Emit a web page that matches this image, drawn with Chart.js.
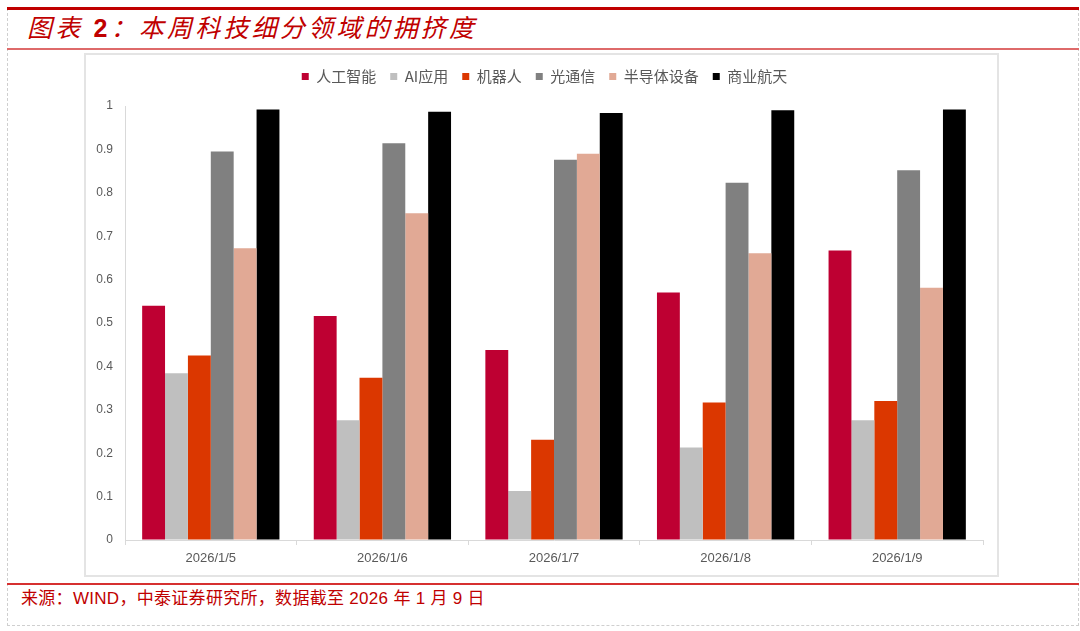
<!DOCTYPE html>
<html lang="zh">
<head>
  <meta charset="UTF-8">
  <title>本周科技细分领域的拥挤度</title>
  <script src="https://cdn.jsdelivr.net/npm/chart.js"></script>
  <style>
    body { margin: 0; background: #fff; width: 1080px; height: 631px; position: relative; overflow: hidden; }
    .page { position: absolute; left: 7px; top: 8px; width: 1070px; height: 617px;
            border-left: 1px dashed #cfcfcf; border-right: 1px dashed #cfcfcf; border-bottom: 1px dashed #cfcfcf; }
    .topbar { position: absolute; left: 7px; top: 7px; width: 1072px; height: 3px; background: #C00000; }
    .title { position: absolute; left: 27px; top: 16px; font-family: "Liberation Sans", "Noto Sans CJK SC", sans-serif;
             font-size: 25px; line-height: 25px; font-style: italic; color: #C00000; letter-spacing: 3.2px; white-space: nowrap; }
    .title b { font-style: normal; font-weight: bold; }
    .titleline { position: absolute; left: 7px; top: 48px; width: 1072px; height: 2px; background: #DE6A6A; }
    .frame { position: absolute; left: 84px; top: 53px; width: 911px; height: 520px; border: 2px solid #e4e4e4; }
    .sourceline { position: absolute; left: 7px; top: 583px; width: 1072px; height: 2px; background: #D63030; }
    .source { position: absolute; left: 21px; top: 589px; font-family: "Liberation Sans", "Noto Sans CJK SC", sans-serif;
              font-size: 17px; line-height: 20px; color: #C00000; letter-spacing: 0.3px; white-space: nowrap; }
  </style>
</head>
<body>
  <div class="page"></div>
  <div class="topbar"></div>
  <div class="title">图表 <b>2</b>：本周科技细分领域的拥挤度</div>
  <div class="titleline"></div>
  <div class="frame">
    <canvas id="crowdChart" width="911" height="520"></canvas>
  </div>
  <div class="sourceline"></div>
  <div class="source">来源：WIND，中泰证券研究所，数据截至 2026 年 1 月 9 日</div>

  <script>
    // categories and series
    const dates = ['2026/1/5', '2026/1/6', '2026/1/7', '2026/1/8', '2026/1/9'];
    const seriesNames = ['人工智能', 'AI应用', '机器人', '光通信', '半导体设备', '商业航天'];
    const aiData = [0.540, 0.516, 0.438, 0.570, 0.667];
    const aiAppData = [0.384, 0.276, 0.113, 0.213, 0.276];
    const robotData = [0.425, 0.374, 0.231, 0.317, 0.320];
    const opticalData = [0.895, 0.914, 0.876, 0.823, 0.852];
    const semiData = [0.672, 0.753, 0.890, 0.661, 0.581];
    const spaceData = [0.992, 0.987, 0.984, 0.990, 0.992];
    const yTickLabels = ['0', '0.1', '0.2', '0.3', '0.4', '0.5', '0.6', '0.7', '0.8', '0.9', '1'];

    const colors = ['#BE0032', '#BFBFBF', '#DB3700', '#808080', '#E1A995', '#000000'];
    const allSeries = [aiData, aiAppData, robotData, opticalData, semiData, spaceData];

    const datasets = allSeries.map((values, i) => ({
      label: seriesNames[i],
      data: values,
      backgroundColor: colors[i],
      borderWidth: 0,
      categoryPercentage: 0.8,
      barPercentage: 1.0
    }));

    // fixed legend height so the plot starts where it does in the picture,
    // and nudge the legend a bit right like the original
    const legendTweak = {
      id: 'legendTweak',
      beforeInit(chart) {
        const origFit = chart.legend.fit;
        chart.legend.fit = function () {
          origFit.call(this);
          this.height = 51;
        };
      },
      afterLayout(chart) {
        chart.legend.left += 20;
      }
    };

    const tickColor = '#595959';
    const axisColor = '#d9d9d9';

    new Chart(document.getElementById('crowdChart'), {
      type: 'bar',
      data: { labels: dates, datasets: datasets },
      plugins: [legendTweak],
      options: {
        responsive: false,
        animation: false,
        layout: { padding: { left: 0, right: 14, top: 0, bottom: 0 } },
        plugins: {
          tooltip: { enabled: false },
          legend: {
            position: 'top',
            labels: {
              boxWidth: 7,
              boxHeight: 7,
              padding: 14,
              color: tickColor,
              font: { family: '"Noto Sans CJK SC", sans-serif', size: 15 }
            }
          }
        },
        scales: {
          x: {
            afterFit(scale) { scale.height = 35; },
            grid: { display: true, drawOnChartArea: false, drawTicks: true, tickLength: 5, color: axisColor, offset: true },
            border: { display: true, color: axisColor, width: 1 },
            ticks: { color: tickColor, padding: 6, font: { family: '"Liberation Sans", sans-serif', size: 13 } }
          },
          y: {
            min: 0,
            max: 1,
            afterFit(scale) { scale.width = 39; },
            grid: { display: true, drawOnChartArea: false, drawTicks: false },
            border: { display: true, color: axisColor, width: 1 },
            ticks: {
              stepSize: 0.1,
              padding: 12,
              color: tickColor,
              font: { family: '"Liberation Sans", sans-serif', size: 12 },
              callback: (value, index) => yTickLabels[index]
            }
          }
        }
      }
    });
  </script>
</body>
</html>
